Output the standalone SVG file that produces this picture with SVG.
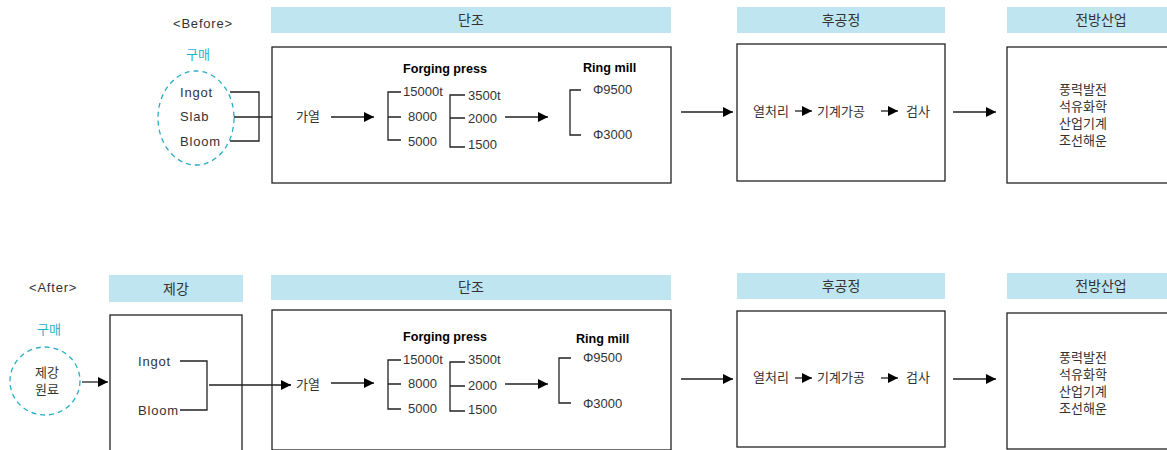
<svg xmlns="http://www.w3.org/2000/svg" width="1167" height="450" viewBox="0 0 1167 450">
<style>
text{font-family:"Liberation Sans","Noto Sans CJK KR",sans-serif;font-size:13px;fill:#333;}
.h{font-size:14px;text-anchor:middle;}
.b{font-weight:bold;fill:#000;font-size:12.6px;}
.w{letter-spacing:0.8px;}
.c{fill:#29b0cc;}
.bar{fill:#bfe6f0;}
.box{fill:#fff;stroke:#222;stroke-width:1.3;}
.ln{fill:none;stroke:#222;stroke-width:1.3;}
.dash{fill:none;stroke:#29acc8;stroke-width:1.3;stroke-dasharray:5,4;}
</style>
<defs>
<marker id="ah" viewBox="0 0 10 10" refX="10" refY="5" markerWidth="10" markerHeight="10" markerUnits="userSpaceOnUse" orient="auto">
<path d="M0,0L10,5L0,10z" fill="#000"/>
</marker>
</defs>

<!-- BEFORE -->
<g id="before-label"><text x="173" y="28" class="w">&lt;Before&gt;</text></g>
<g id="before-buy">
<text x="198" y="59" class="c" text-anchor="middle">구매</text>
<ellipse cx="196" cy="118" rx="38" ry="47" class="dash"/>
<text x="180" y="97" class="w">Ingot</text>
<text x="180" y="121" class="w">Slab</text>
<text x="180" y="146" class="w">Bloom</text>
</g>
<g id="before-forge">
<rect x="271" y="7" width="400" height="26" class="bar"/>
<text x="471" y="25" class="h">단조</text>
<rect x="272" y="47" width="399" height="136" class="box"/>
<text x="296" y="121">가열</text>
<text x="403" y="73" class="b">Forging press</text>
<text x="403" y="96">15000t</text>
<text x="408" y="121">8000</text>
<text x="408" y="146">5000</text>
<text x="468" y="100">3500t</text>
<text x="468" y="123">2000</text>
<text x="468" y="149">1500</text>
<text x="583" y="72" class="b">Ring mill</text>
<text x="593" y="94">Φ9500</text>
<text x="593" y="139">Φ3000</text>
</g>
<g id="before-post">
<rect x="737" y="7" width="208" height="26" class="bar"/>
<text x="841" y="25" class="h">후공정</text>
<rect x="737" y="44" width="208" height="137" class="box"/>
<text x="753" y="116">열처리</text>
<text x="817" y="116">기계가공</text>
<text x="906" y="116">검사</text>
</g>
<g id="before-ind">
<rect x="1007" y="7" width="160" height="26" class="bar"/>
<text x="1101" y="25" class="h">전방산업</text>
<rect x="1007" y="47" width="170" height="136" class="box"/>
<text x="1059" y="94">풍력발전</text>
<text x="1059" y="111">석유화학</text>
<text x="1059" y="128">산업기계</text>
<text x="1059" y="145">조선해운</text>
</g>

<!-- AFTER -->
<g id="after-label"><text x="29" y="292" class="w">&lt;After&gt;</text></g>
<g id="after-buy">
<text x="49" y="334" class="c" text-anchor="middle">구매</text>
<ellipse cx="45" cy="381" rx="35" ry="34" class="dash"/>
<text x="47" y="377" text-anchor="middle">제강</text>
<text x="47" y="394" text-anchor="middle">원료</text>
</g>
<g id="after-steel">
<rect x="109" y="275" width="134" height="27" class="bar"/>
<text x="176" y="294" class="h">제강</text>
<rect x="110" y="315" width="132" height="140" class="box"/>
<text x="138" y="366" class="w">Ingot</text>
<text x="138" y="415" class="w">Bloom</text>
</g>
<g id="after-forge">
<rect x="271" y="275" width="400" height="25" class="bar"/>
<text x="471" y="292" class="h">단조</text>
<rect x="272" y="310" width="399" height="140" class="box"/>
<text x="296" y="389">가열</text>
<text x="403" y="341" class="b">Forging press</text>
<text x="403" y="364">15000t</text>
<text x="408" y="388">8000</text>
<text x="408" y="413">5000</text>
<text x="468" y="364">3500t</text>
<text x="468" y="390">2000</text>
<text x="468" y="414">1500</text>
<text x="576" y="343" class="b">Ring mill</text>
<text x="583" y="362">Φ9500</text>
<text x="583" y="408">Φ3000</text>
</g>
<g id="after-post">
<rect x="737" y="273" width="208" height="26" class="bar"/>
<text x="841" y="291" class="h">후공정</text>
<rect x="737" y="311" width="208" height="136" class="box"/>
<text x="753" y="382">열처리</text>
<text x="817" y="382">기계가공</text>
<text x="906" y="382">검사</text>
</g>
<g id="after-ind">
<rect x="1007" y="273" width="160" height="26" class="bar"/>
<text x="1101" y="291" class="h">전방산업</text>
<rect x="1007" y="313" width="170" height="136" class="box"/>
<text x="1059" y="362">풍력발전</text>
<text x="1059" y="379">석유화학</text>
<text x="1059" y="396">산업기계</text>
<text x="1059" y="413">조선해운</text>
</g>

<g id="connectors">
<!-- before -->
<path d="M230,92H259V141H230M234,117H272" class="ln"/>
<path d="M331,117H374" class="ln" marker-end="url(#ah)"/>
<path d="M401,92H388V140H401M388,117H401" class="ln"/>
<path d="M465,95H450V147H465M450,118H465" class="ln"/>
<path d="M505,117H548" class="ln" marker-end="url(#ah)"/>
<path d="M581,90H570V135H581" class="ln"/>
<path d="M681,112H733" class="ln" marker-end="url(#ah)"/>
<path d="M795,111H812" class="ln" marker-end="url(#ah)"/>
<path d="M881,111H898" class="ln" marker-end="url(#ah)"/>
<path d="M953,112H996" class="ln" marker-end="url(#ah)"/>
<!-- after -->
<path d="M82,382H108" class="ln" marker-end="url(#ah)"/>
<path d="M180,361H207V410H180M209,385H291" class="ln"/>
<path d="M282,385H291" class="ln" marker-end="url(#ah)"/>
<path d="M331,383H374" class="ln" marker-end="url(#ah)"/>
<path d="M401,360H388V409H401M388,384H401" class="ln"/>
<path d="M465,362H450V411H465M450,386H465" class="ln"/>
<path d="M505,384H548" class="ln" marker-end="url(#ah)"/>
<path d="M571,358H559V403H571" class="ln"/>
<path d="M681,379H733" class="ln" marker-end="url(#ah)"/>
<path d="M795,378H812" class="ln" marker-end="url(#ah)"/>
<path d="M881,378H898" class="ln" marker-end="url(#ah)"/>
<path d="M953,379H996" class="ln" marker-end="url(#ah)"/>
</g>
</svg>
